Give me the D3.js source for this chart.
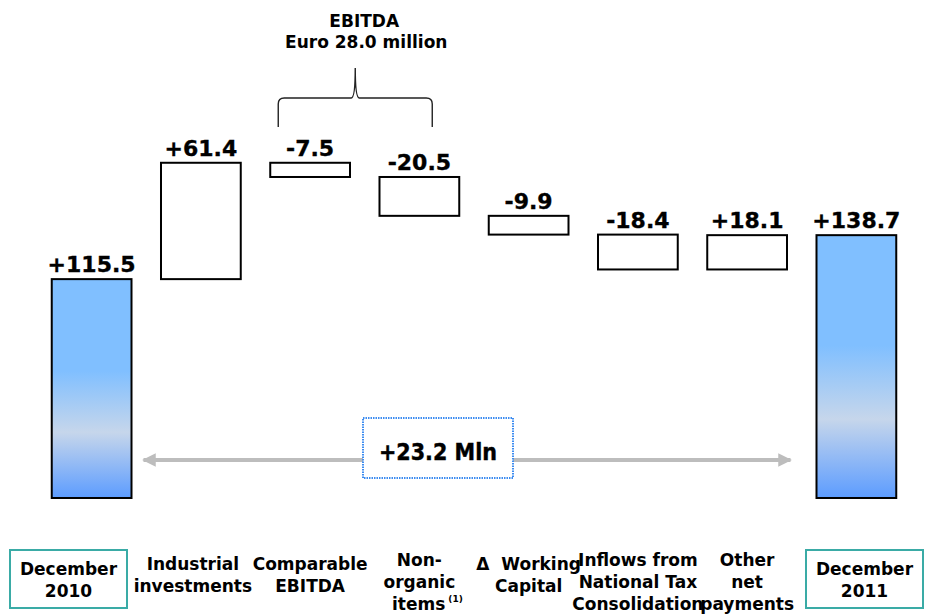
<!DOCTYPE html>
<html lang="en">
<head>
    <meta charset="UTF-8">
    <title>Cash bridge 2010 - 2011</title>
    <script src="https://d3js.org/d3.v7.min.js"></script>
    <style>
        body { margin: 0; background: #fff; }
        svg { display: block; font-family: "DejaVu Sans", Verdana, sans-serif; }
        .val { font-size: 22px; font-weight: bold; fill: #000; stroke: #000; stroke-width: 0.35px; }
        .cat { font-size: 17px; font-weight: bold; fill: #000; white-space: pre; }
        .bar { stroke: #000; stroke-width: 2px; }
    </style>
</head>
<body>
<svg width="926" height="614"></svg>
<script>
    // categories (line breaks as in the chart)
    const categories = [
        ["December", "2010"],
        ["Industrial", "investments"],
        ["Comparable", "EBITDA"],
        ["Non-", "organic", "items"],
        ["\u0394  Working", "Capital"],
        ["Inflows from", "National Tax", "Consolidation"],
        ["Other", "net", "payments"],
        ["December", "2011"]
    ];
    // values in Euro million: totals at both ends, changes in between
    const values = [115.5, 61.4, -7.5, -20.5, -9.9, -18.4, 18.1, 138.7];
    const kinds = ["total", "delta", "delta", "delta", "delta", "delta", "delta", "total"];
    const ebitdaItems = [2, 3];   // items grouped under the EBITDA bracket
    const changeUnit = "Mln";

    const svg = d3.select("svg");

    // waterfall levels
    let level = 0;
    const bars = values.map((v, i) => {
        let y0, y1;
        if (kinds[i] === "total") { y0 = 0; y1 = v; level = v; }
        else { y0 = level; y1 = level + v; level = y1; }
        return { i, v, lo: Math.min(y0, y1), hi: Math.max(y0, y1), kind: kinds[i] };
    });

    const x = d3.scaleBand().domain(d3.range(values.length)).range([37, 911]).paddingInner(0.27).paddingOuter(0.135);
    const y = d3.scaleLinear().domain([0, 200]).range([498, 119]);
    const bw = x.bandwidth();

    // gradient for the totals
    const defs = svg.append("defs");
    const grad = defs.append("linearGradient").attr("id", "blueGrad")
        .attr("x1", 0).attr("y1", 0).attr("x2", 0).attr("y2", 1);
    [[0, "#80bfff"], [0.42, "#80bfff"], [0.7, "#c6d6eb"], [1, "#5c9cff"]]
        .forEach(s => grad.append("stop").attr("offset", s[0]).attr("stop-color", s[1]));

    defs.append("marker").attr("id", "head")
        .attr("viewBox", "0 0 10 10").attr("refX", 9).attr("refY", 5)
        .attr("markerWidth", 4.2).attr("markerHeight", 3.4).attr("markerUnits", "strokeWidth")
        .attr("orient", "auto-start-reverse")
        .append("path").attr("d", "M0,0L10,5L0,10Z").attr("fill", "#bdbdbd");

    // bars
    svg.append("g").selectAll("rect")
        .data(bars)
        .join("rect")
        .attr("class", "bar")
        .attr("x", d => x(d.i))
        .attr("y", d => y(d.hi))
        .attr("width", bw)
        .attr("height", d => y(d.lo) - y(d.hi))
        .attr("fill", d => d.kind === "total" ? "url(#blueGrad)" : "#fff");

    // value labels
    const fmt = v => (v >= 0 ? "+" : "-") + Math.abs(v).toFixed(1);
    svg.append("g").selectAll("text")
        .data(bars)
        .join("text")
        .attr("class", "val")
        .attr("text-anchor", "middle")
        .attr("x", d => x(d.i) + bw / 2)
        .attr("y", d => y(d.hi) - 7)
        .text(d => fmt(d.v));

    // category labels
    const catG = svg.append("g");
    categories.forEach((lines, i) => {
        const isTotal = kinds[i] === "total";
        let cx = x(i) + bw / 2;
        if (i === 1) cx -= 8;   // label sits a little left of its bar
        if (isTotal) {
            const bx = i === 0 ? 10 : 806;
            cx = bx + 58.5;
            catG.append("rect").attr("x", bx).attr("y", 550).attr("width", 117).attr("height", 58)
                .attr("fill", "#fff").attr("stroke", "#3aaba6").attr("stroke-width", 2);
        }
        const top = isTotal ? 575 : (lines.length === 3 ? 566 : 570);
        const t = catG.append("text").attr("class", "cat").attr("text-anchor", "middle");
        lines.forEach((ln, k) => {
            const ts = t.append("tspan").attr("x", cx).attr("y", top + k * 22).text(ln);
            if (i === 3 && k === 2) {
                ts.attr("dx", 8);
                t.append("tspan").attr("font-size", 9).attr("dy", -8).attr("dx", 3).text("(1)");
            }
        });
    });

    // EBITDA bracket
    const ebitda = d3.sum(ebitdaItems, i => values[i]);
    const bl = x(ebitdaItems[0]) + 8;
    const br = x(ebitdaItems[1]) + bw - 27;
    const bm = (bl + br) / 2;
    svg.append("path")
        .attr("d", `M${bl},127 L${bl},104 Q${bl},98 ${bl + 6},98 L${bm - 4},98 Q${bm},98 ${bm},68 Q${bm},98 ${bm + 4},98 L${br - 6},98 Q${br},98 ${br},104 L${br},127`)
        .attr("fill", "none").attr("stroke", "#222").attr("stroke-width", 1.4);
    const title = svg.append("text").attr("class", "cat").attr("text-anchor", "middle");
    title.append("tspan").attr("x", bm + 9).attr("y", 27).text("EBITDA");
    title.append("tspan").attr("x", bm + 11).attr("y", 48).text(`Euro ${Math.abs(ebitda).toFixed(1)} million`);

    // overall change arrow
    const change = values[values.length - 1] - values[0];
    const ay = 460;
    svg.append("line")
        .attr("x1", x(0) + bw + 12).attr("x2", x(values.length - 1) - 26)
        .attr("y1", ay).attr("y2", ay)
        .attr("stroke", "#bdbdbd").attr("stroke-width", 4)
        .attr("marker-start", "url(#head)").attr("marker-end", "url(#head)");
    svg.append("rect")
        .attr("x", 363).attr("y", 418).attr("width", 150).attr("height", 60)
        .attr("fill", "#fff").attr("stroke", "#3d8cf0").attr("stroke-width", 2).attr("stroke-dasharray", "1.5,1");
    svg.append("text")
        .attr("x", 438).attr("y", 460)
        .attr("text-anchor", "middle")
        .style("font-family", "'DejaVu Sans Condensed', 'DejaVu Sans', sans-serif")
        .style("font-stretch", "condensed")
        .style("font-weight", "bold").style("font-size", "23px")
        .style("stroke", "#000").style("stroke-width", "0.4px")
        .text(`${fmt(change)} ${changeUnit}`);
</script>
</body>
</html>
